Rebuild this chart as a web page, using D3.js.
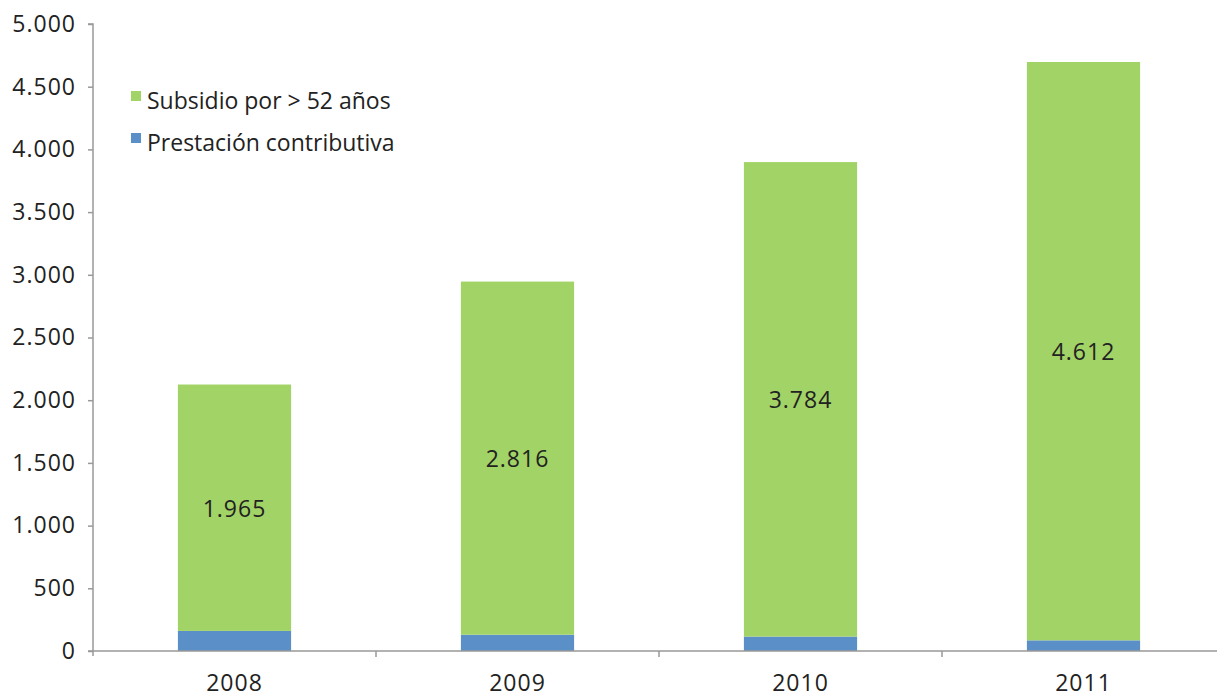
<!DOCTYPE html>
<html><head><meta charset="utf-8">
<script src="https://cdn.jsdelivr.net/npm/d3@7"></script>
<style>body{margin:0;background:#fff}svg{display:block}text{font-family:"Open Sans",sans-serif;fill:#222}</style>
</head><body><svg id="c" width="1217" height="699"></svg>
<script>
const categories = ["2008","2009","2010","2011"];
const contributiva = [160, 130, 115, 85];
const subsidio = [1965, 2816, 3784, 4612];
const yTicks = [0,500,1000,1500,2000,2500,3000,3500,4000,4500,5000];
const seriesNames = ["Subsidio por > 52 años","Prestación contributiva"];
const colors = {sub:"#A2D366", con:"#5B8FC8"};

const svg = d3.select("#c");
const x0 = 93, x1 = 1225, yTop = 24, yBot = 651;
const x = d3.scaleBand().domain(categories).range([x0,x1]).paddingInner(0.6).paddingOuter(0.3);
const y = d3.scaleLinear().domain([0,5000]).range([yBot,yTop]);
const fmt = v => d3.format(",")(v).replace(/,/g,".");
const FF = "'Open Sans',sans-serif";

const data = categories.map((c,i)=>({c, con:contributiva[i], sub:subsidio[i]}));

// bars
svg.selectAll(".con").data(data).join("rect").attr("class","con")
  .attr("x",d=>x(d.c)).attr("width",x.bandwidth())
  .attr("y",d=>y(d.con)).attr("height",d=>y(0)-y(d.con)).attr("fill",colors.con);
svg.selectAll(".sub").data(data).join("rect").attr("class","sub")
  .attr("x",d=>x(d.c)).attr("width",x.bandwidth())
  .attr("y",d=>y(d.con+d.sub)).attr("height",d=>y(d.con)-y(d.con+d.sub)).attr("fill",colors.sub);
svg.selectAll(".lbl").data(data).join("text").attr("class","lbl")
  .attr("x",d=>x(d.c)+x.bandwidth()/2).attr("y",d=>(y(d.con)+y(d.con+d.sub))/2)
  .attr("text-anchor","middle").attr("dominant-baseline","central")
  .style("font-size","23px").style("letter-spacing","1px").style("font-family",FF).text(d=>fmt(d.sub));

// y axis
const ya = svg.append("g").attr("transform",`translate(${x0},0)`)
  .call(d3.axisLeft(y).tickValues(yTicks).tickFormat(fmt).tickSize(5).tickPadding(12));
ya.select(".domain").attr("stroke","#999").attr("stroke-width",1.5).attr("d",`M-5,${yTop}H0V${yBot+5}`);
ya.selectAll(".tick line").attr("stroke","#999").attr("stroke-width",1.5);
ya.selectAll(".tick text").style("font-size","23px").style("letter-spacing","1px").style("font-family",FF).attr("fill","#222");

// x axis
const xa = svg.append("g").attr("transform",`translate(0,${yBot})`)
  .call(d3.axisBottom(x).tickSize(0).tickPadding(24));
xa.select(".domain").attr("stroke","#999").attr("stroke-width",1.5).attr("d",`M${x0-5},0H${x1}`);
xa.selectAll(".tick text").style("font-size","23px").style("letter-spacing","1px").style("font-family",FF).attr("fill","#222");
const step = x.step();
svg.append("g").selectAll("line").data(categories.slice(1)).join("line")
  .attr("x1",d=>x(d)-x.paddingInner()*step/2).attr("x2",d=>x(d)-x.paddingInner()*step/2)
  .attr("y1",yBot).attr("y2",yBot+6).attr("stroke","#999").attr("stroke-width",1.5);

// legend
const leg = svg.append("g");
const legItems = [{n:seriesNames[0],c:colors.sub,y:91},{n:seriesNames[1],c:colors.con,y:133}];
leg.selectAll("rect").data(legItems).join("rect").attr("x",131).attr("y",d=>d.y).attr("width",10).attr("height",10).attr("fill",d=>d.c);
leg.selectAll("text").data(legItems).join("text").attr("x",147).attr("y",d=>d.y+18)
  .style("font-size","23px").style("font-family",FF).text(d=>d.n);
</script></body></html>
